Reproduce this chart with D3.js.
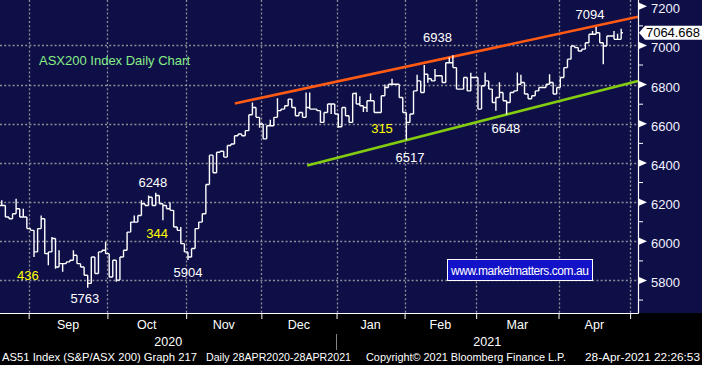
<!DOCTYPE html>
<html><head><meta charset="utf-8">
<script src="https://cdn.jsdelivr.net/npm/d3@7"></script>
<style>body{margin:0;background:#000;}svg{display:block;}</style>
</head><body>
<svg id="c" width="702" height="365"></svg>
<script>
// ---- data (ASX200 daily, 20 Aug 2020 - 28 Apr 2021, trading-day index) ----
const closes = [6183,6124,6115,6141,6166,6124,6124,6065,6056,5946,
6065,6115,5937,5946,6014,5869,5886,5886,5895,5903,
5929,5886,5869,5827,5785,5920,5836,5946,5954,5937,
5818,5903,5802,5920,5954,6047,6098,6098,6132,6192,
6183,6225,6183,6234,6192,6183,6166,6158,6073,6056,
5988,5946,5920,5963,6065,6098,6141,6290,6440,6350,
6455,6460,6430,6489,6497,6539,6548,6539,6565,6646,
6683,6633,6599,6523,6590,6590,6633,6667,6675,6692,
6726,6683,6641,6658,6633,6683,6675,6675,6667,6607,
6658,6701,6701,6650,6585,6683,6641,6607,6755,6701,
6692,6683,6718,6718,6658,6658,6743,6785,6802,6802,
6802,6734,6658,6607,6650,6768,6819,6760,6853,6830,
6819,6845,6845,6811,6912,6912,6887,6777,6777,6836,
6768,6836,6836,6675,6794,6819,6777,6709,6734,6760,
6718,6709,6760,6768,6802,6811,6752,6728,6743,6768,
6785,6785,6802,6811,6752,6785,6836,6887,6930,6997,
6989,6972,6981,7014,7057,7057,7065,7014,6997,7048,
7048,7031,7031,7064.668];
const wickHigh = [[0,6210],[4,6217],[6,6166],[11,6132],[14,6022],[16,5954],[20,5954],[29,5996],
[37,6132],[39,6210],[41,6234],[43,6248],[47,6200],[50,6073],[70,6709],[75,6620],[77,6730],
[85,6760],[86,6760],[99,6760],[100,6740],[103,6755],[107,6800],[109,6830],[116,6850],[118,6900],
[121,6880],[125,6938],[126,6950],[131,6860],[135,6862],[139,6812],[144,6862],[145,6850],
[153,6853],[165,7074],[166,7094],[171,7074],[172,7060],[173,7085]];
const wickLow = [[9,5920],[13,5878],[15,5860],[17,5844],[24,5763],[32,5793],[45,6107],[52,5904],
[72,6580],[92,6650],[94,6580],[101,6660],[102,6660],[113,6517],[119,6810],[138,6667],[141,6648],[168,6904]];
const monthLabels = ["Sep","Oct","Nov","Dec","Jan","Feb","Mar","Apr"];
const monthStarts = [8,30,52,73,94,113,133,156,176];   // first trading-day index of each month (+ May)
const yearLabels = ["2020","2021"];
const yearStart2021 = 94;
const yTicks = [5800,6000,6200,6400,6600,6800,7000,7200];
const yMinor = [5700,5900,6100,6300,6500,6700,6900,7100];
const yGrid = [5800,6000,6200,6400,6600,6800,7000];
const lastPrice = 7064.668;
const resistance = [[65.1,6704],[177.7,7146]];
const support = [[85.3,6387],[177.7,6819]];
const annotations = [
 {t:"7094",d:164.3,v:7160,c:"#ffffff"},
 {t:"6938",d:121.7,v:7040,c:"#ffffff"},
 {t:"6648",d:140.8,v:6575,c:"#ffffff"},
 {t:"6517",d:114.0,v:6427,c:"#ffffff"},
 {t:"315",d:106.2,v:6575,c:"#ffff00"},
 {t:"6248",d:42.2,v:6300,c:"#ffffff"},
 {t:"344",d:43.4,v:6041,c:"#ffff00"},
 {t:"5904",d:52.0,v:5842,c:"#ffffff"},
 {t:"436",d:7.3,v:5827,c:"#ffff00"},
 {t:"5763",d:23.2,v:5710,c:"#ffffff"}
];
const title = "ASX200 Index Daily Chart";
const watermark = "www.marketmatters.com.au";
const footer = [["AS51 Index (S&P/ASX 200) Graph 217",2,195],["Daily 28APR2020-28APR2021",206,145],
 ["Copyright\u00A9 2021 Bloomberg Finance L.P.",366,200],["28-Apr-2021 22:26:53",585,115]];

// ---- layout ----
const W=702,H=365, plotR=638, plotB=313;
const svg=d3.select("#c");
const x=d3.scaleLinear().domain([-0.5,177.7]).range([0,plotR]);
const y=d3.scaleLinear().domain([5634,7232]).range([plotB,0]);
const font="'Liberation Sans', Arial, sans-serif";

svg.append("rect").attr("width",W).attr("height",H).attr("fill","#000");
svg.append("rect").attr("width",W).attr("height",plotB).attr("fill","#0f0f48");

// grid
const g=svg.append("g").attr("stroke","#8e8e96").attr("stroke-width",1.3).attr("stroke-dasharray","2,2.2");
g.selectAll("line.h").data(yGrid).join("line").attr("class","h")
 .attr("x1",0).attr("x2",plotR).attr("y1",d=>Math.round(y(d))+0.5).attr("y2",d=>Math.round(y(d))+0.5);
g.selectAll("line.v").data(monthStarts).join("line").attr("class","v")
 .attr("x1",d=>Math.round(x(d-0.5))+0.5).attr("x2",d=>Math.round(x(d-0.5))+0.5).attr("y1",0).attr("y2",plotB);

// trend lines
const ln=d3.line().x(d=>x(d[0])).y(d=>y(d[1]));
svg.append("path").attr("d",ln(resistance)).attr("stroke","#ff5a14").attr("stroke-width",2.6).attr("fill","none");
svg.append("path").attr("d",ln(support)).attr("stroke","#84cc10").attr("stroke-width",2.6).attr("fill","none");

// price bars (open = previous close)
const hiMap=new Map(wickHigh), loMap=new Map(wickLow);
const hw=(x(1)-x(0))/2;
let pd="";
closes.forEach((c,i)=>{
  const o=i>0?closes[i-1]:c;
  const hi=Math.max(o,c,hiMap.get(i)??-Infinity), lo=Math.min(o,c,loMap.get(i)??Infinity);
  const xi=x(i);
  pd+=`M${xi-hw},${y(o)}H${xi}M${xi},${y(hi)}V${y(lo)}M${xi},${y(c)}H${xi+hw}`;
});
svg.append("path").attr("d",pd).attr("stroke","#ffffff").attr("stroke-width",1.4).attr("fill","none");

// annotations
svg.append("g").selectAll("text").data(annotations).join("text")
 .attr("x",d=>x(d.d)).attr("y",d=>y(d.v)).attr("text-anchor","middle").attr("dominant-baseline","central")
 .attr("fill",d=>d.c).attr("font-family",font).attr("font-size",13).text(d=>d.t);

svg.append("text").attr("x",39).attr("y",65).attr("fill","#86ee86").attr("font-family",font)
 .attr("font-size",13).text(title);

// watermark box
const wm=svg.append("g");
wm.append("rect").attr("x",447.5).attr("y",259.5).attr("width",145).attr("height",21)
 .attr("fill","#1212c8").attr("stroke","#ffffff").attr("stroke-width",1);
wm.append("text").attr("x",520).attr("y",270.5).attr("text-anchor","middle").attr("dominant-baseline","central")
 .attr("fill","#fff").attr("font-family",font).attr("font-size",12).attr("textLength",138).text(watermark);

// right axis
svg.append("line").attr("x1",plotR+0.5).attr("x2",plotR+0.5).attr("y1",0).attr("y2",plotB+0.5).attr("stroke","#fff").attr("stroke-width",1.2);
svg.append("line").attr("x1",0).attr("x2",plotR+0.5).attr("y1",plotB+0.5).attr("y2",plotB+0.5).attr("stroke","#fff").attr("stroke-width",1.2);
const ax=svg.append("g").attr("transform",`translate(${plotR+12},0)`)
 .call(d3.axisRight(y).tickValues(yTicks).tickSize(0).tickPadding(1).tickFormat(d3.format("d")));
ax.select(".domain").remove();
ax.selectAll("text").attr("fill","#f2f2ff").attr("font-family",font).attr("font-size",13).attr("dy","0.5em");
svg.append("g").selectAll("path").data(yTicks).join("path")
 .attr("d",d=>`M${plotR+1},${y(d)-3.5}L${plotR+9},${y(d)}L${plotR+1},${y(d)+3.5}Z`).attr("fill","#fff");
svg.append("g").selectAll("line").data(yMinor).join("line")
 .attr("x1",plotR).attr("x2",plotR+5).attr("y1",d=>y(d)).attr("y2",d=>y(d)).attr("stroke","#fff").attr("stroke-width",1);

// last price tag
const yc=y(lastPrice);
svg.append("path").attr("d",`M${plotR+1},${yc}L${plotR+7},${yc-7}H${W}V${yc+7}H${plotR+7}Z`).attr("fill","#fff");
svg.append("text").attr("x",plotR+8).attr("y",yc).attr("dominant-baseline","central").attr("fill","#000")
 .attr("font-family",font).attr("font-size",13).attr("textLength",54).text(d3.format(".3f")(lastPrice));

// bottom axis
const bx=svg.append("g").attr("transform",`translate(0,${plotB})`)
 .call(d3.axisBottom(x).tickValues(monthStarts.map(d=>d-0.5)).tickSize(6).tickFormat(""));
bx.select(".domain").remove();
bx.selectAll("line").attr("stroke","#fff");
svg.append("g").selectAll("text").data(monthLabels).join("text")
 .attr("x",(d,i)=>(x(monthStarts[i]-0.5)+x(monthStarts[i+1]-0.5))/2).attr("y",325)
 .attr("text-anchor","middle").attr("dominant-baseline","central").attr("fill","#fff")
 .attr("font-family",font).attr("font-size",12.5).text(d=>d);
const yrSpans=[[x.range()[0],x(yearStart2021-0.5)],[x(yearStart2021-0.5),plotR]];
svg.append("g").selectAll("text").data(yearLabels).join("text")
 .attr("x",(d,i)=>(yrSpans[i][0]+yrSpans[i][1])/2).attr("y",342)
 .attr("text-anchor","middle").attr("dominant-baseline","central").attr("fill","#fff")
 .attr("font-family",font).attr("font-size",12.5).text(d=>d);
svg.append("line").attr("x1",x(yearStart2021-0.5)).attr("x2",x(yearStart2021-0.5)).attr("y1",334).attr("y2",350)
 .attr("stroke","#888").attr("stroke-width",1);

// footer
svg.append("g").selectAll("text").data(footer).join("text")
 .attr("x",d=>d[1]).attr("y",357).attr("dominant-baseline","central").attr("fill","#fff")
 .attr("font-family",font).attr("font-size",11.5).attr("textLength",d=>d[2]).attr("lengthAdjust","spacingAndGlyphs")
 .text(d=>d[0]);
</script>
</body></html>
